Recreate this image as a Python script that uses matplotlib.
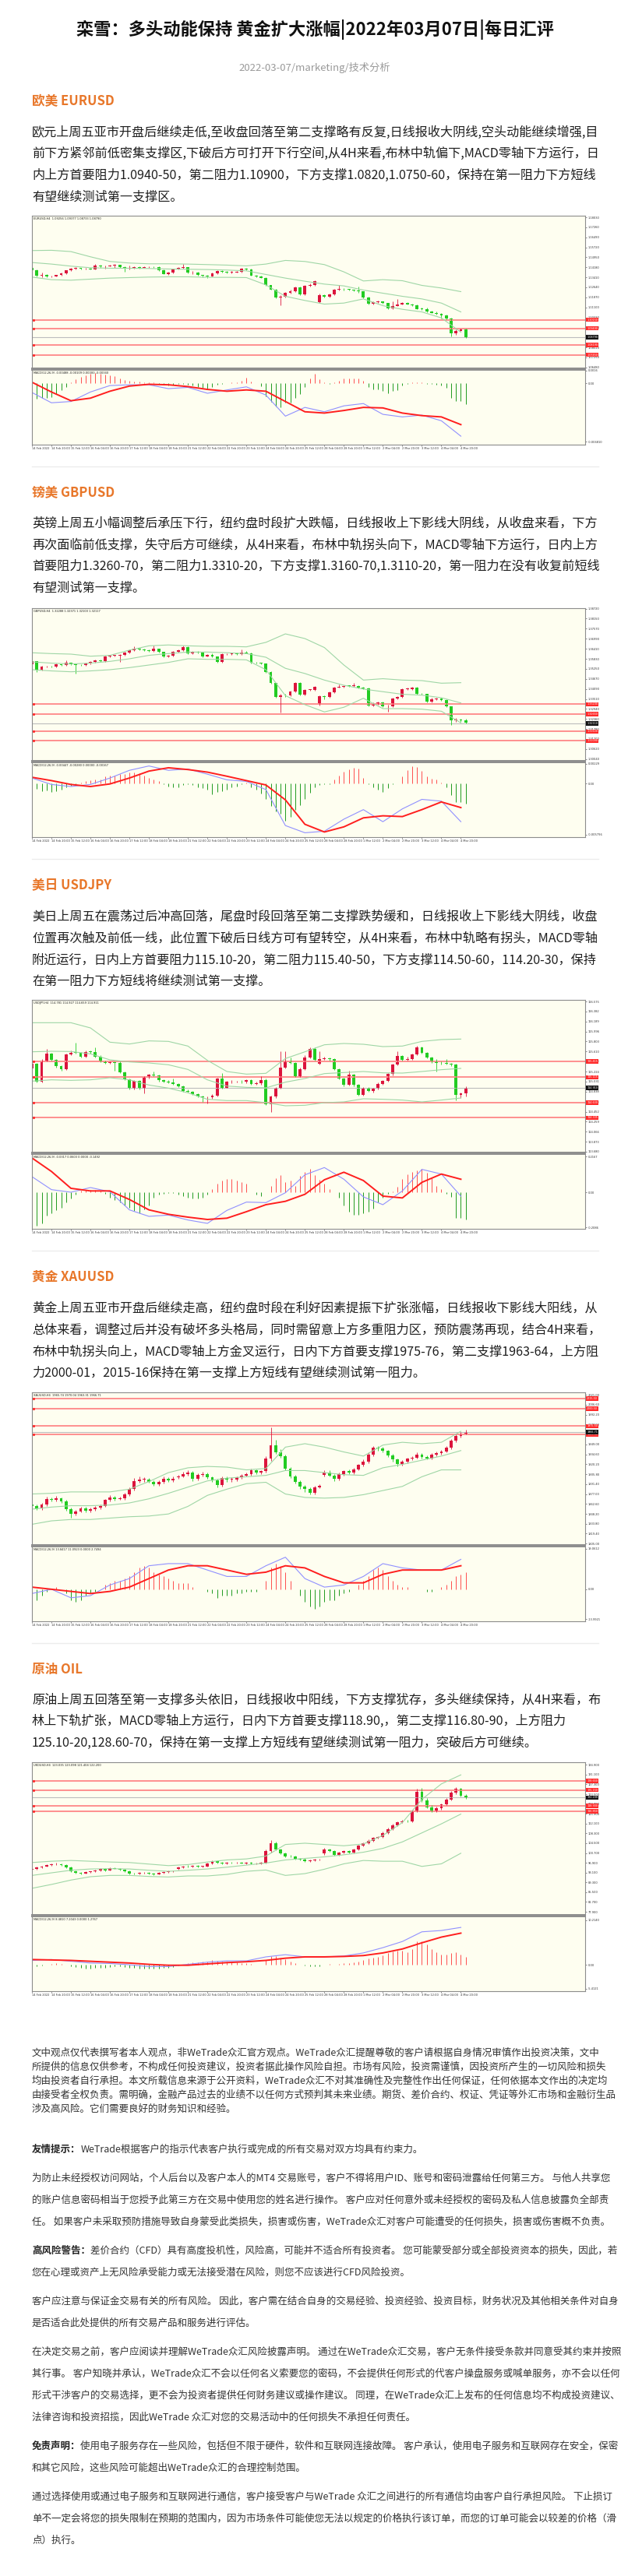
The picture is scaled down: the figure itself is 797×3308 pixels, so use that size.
import numpy as np
import matplotlib
matplotlib.use("Agg")
import matplotlib.pyplot as plt
from matplotlib.transforms import blended_transform_factory as blend

W, H = 797, 3308
FONT = ["Noto Sans CJK SC", "DejaVu Sans"]
plt.rcParams["font.family"] = FONT

# ---------------- page text ----------------
title = "栾雪：多头动能保持 黄金扩大涨幅|2022年03月07日|每日汇评"
subtitle = "2022-03-07/marketing/技术分析"

eur_head = "欧美 EURUSD"
eur_text = [
    "欧元上周五亚市开盘后继续走低,至收盘回落至第二支撑略有反复,日线报收大阴线,空头动能继续增强,目",
    "前下方紧邻前低密集支撑区,下破后方可打开下行空间,从4H来看,布林中轨偏下,MACD零轴下方运行，日",
    "内上方首要阻力1.0940-50，第二阻力1.10900，下方支撑1.0820,1.0750-60，保持在第一阻力下方短线",
    "有望继续测试第一支撑区。",
]
gbp_head = "镑美 GBPUSD"
gbp_text = [
    "英镑上周五小幅调整后承压下行，纽约盘时段扩大跌幅，日线报收上下影线大阴线，从收盘来看，下方",
    "再次面临前低支撑，失守后方可继续，从4H来看，布林中轨拐头向下，MACD零轴下方运行，日内上方",
    "首要阻力1.3260-70，第二阻力1.3310-20，下方支撑1.3160-70,1.3110-20，第一阻力在没有收复前短线",
    "有望测试第一支撑。",
]
jpy_head = "美日 USDJPY"
jpy_text = [
    "美日上周五在震荡过后冲高回落，尾盘时段回落至第二支撑跌势缓和，日线报收上下影线大阴线，收盘",
    "位置再次触及前低一线，此位置下破后日线方可有望转空，从4H来看，布林中轨略有拐头，MACD零轴",
    "附近运行，日内上方首要阻力115.10-20，第二阻力115.40-50，下方支撑114.50-60，114.20-30，保持",
    "在第一阻力下方短线将继续测试第一支撑。",
]
xau_head = "黄金 XAUUSD"
xau_text = [
    "黄金上周五亚市开盘后继续走高，纽约盘时段在利好因素提振下扩张涨幅，日线报收下影线大阳线，从",
    "总体来看，调整过后并没有破坏多头格局，同时需留意上方多重阻力区，预防震荡再现，结合4H来看，",
    "布林中轨拐头向上，MACD零轴上方金叉运行，日内下方首要支撑1975-76，第二支撑1963-64，上方阻",
    "力2000-01，2015-16保持在第一支撑上方短线有望继续测试第一阻力。",
]
oil_head = "原油 OIL"
oil_text = [
    "原油上周五回落至第一支撑多头依旧，日线报收中阳线，下方支撑犹存，多头继续保持，从4H来看，布",
    "林上下轨扩张，MACD零轴上方运行，日内下方首要支撑118.90,，第二支撑116.80-90，上方阻力",
    "125.10-20,128.60-70，保持在第一支撑上方短线有望继续测试第一阻力，突破后方可继续。",
]

disc_top = [
    "文中观点仅代表撰写者本人观点，非WeTrade众汇官方观点。WeTrade众汇提醒尊敬的客户请根据自身情况审慎作出投资决策，文中",
    "所提供的信息仅供参考，不构成任何投资建议，投资者据此操作风险自担。市场有风险，投资需谨慎，因投资所产生的一切风险和损失",
    "均由投资者自行承担。本文所载信息来源于公开资料，WeTrade众汇不对其准确性及完整性作出任何保证，任何依据本文作出的决定均",
    "由接受者全权负责。需明确，金融产品过去的业绩不以任何方式预判其未来业绩。期货、差价合约、权证、凭证等外汇市场和金融衍生品",
    "涉及高风险。它们需要良好的财务知识和经验。",
]
disc_blocks = [
    ("友情提示：", ["WeTrade根据客户的指示代表客户执行或完成的所有交易对双方均具有约束力。"]),
    ("", ["为防止未经授权访问网站，个人后台以及客户本人的MT4 交易账号，客户不得将用户ID、账号和密码泄露给任何第三方。 与他人共享您",
          "的账户信息密码相当于您授予此第三方在交易中使用您的姓名进行操作。 客户应对任何意外或未经授权的密码及私人信息披露负全部责",
          "任。 如果客户未采取预防措施导致自身蒙受此类损失，损害或伤害，WeTrade众汇对客户可能遭受的任何损失，损害或伤害概不负责。"]),
    ("高风险警告：", ["差价合约（CFD）具有高度投机性，风险高，可能并不适合所有投资者。 您可能蒙受部分或全部投资资本的损失，因此，若",
                 "您在心理或资产上无风险承受能力或无法接受潜在风险，则您不应该进行CFD风险投资。"]),
    ("", ["客户应注意与保证金交易有关的所有风险。 因此，客户需在结合自身的交易经验、投资经验、投资目标，财务状况及其他相关条件对自身",
          "是否适合此处提供的所有交易产品和服务进行评估。"]),
    ("", ["在决定交易之前，客户应阅读并理解WeTrade众汇风险披露声明。 通过在WeTrade众汇交易，客户无条件接受条款并同意受其约束并按照",
          "其行事。 客户知晓并承认，WeTrade众汇不会以任何名义索要您的密码，不会提供任何形式的代客户操盘服务或喊单服务，亦不会以任何",
          "形式干涉客户的交易选择，更不会为投资者提供任何财务建议或操作建议。 同理，在WeTrade众汇上发布的任何信息均不构成投资建议、",
          "法律咨询和投资招揽，因此WeTrade 众汇对您的交易活动中的任何损失不承担任何责任。"]),
    ("免责声明：", ["使用电子服务存在一些风险，包括但不限于硬件，软件和互联网连接故障。 客户承认，使用电子服务和互联网存在安全，保密",
                "和其它风险，这些风险可能超出WeTrade众汇的合理控制范围。"]),
    ("", ["通过选择使用或通过电子服务和互联网进行通信，客户接受客户与WeTrade 众汇之间进行的所有通信均由客户自行承担风险。 下止损订",
          "单不一定会将您的损失限制在预期的范围内，因为市场条件可能使您无法以规定的价格执行该订单，而您的订单可能会以较差的价格（滑",
          "点）执行。"]),
]

# ---------------- chart data (4H bars, 14 Feb - 4 Mar 2022) ----------------
time_labels = ["14 Feb 2022", "14 Feb 20:00", "15 Feb 12:00", "16 Feb 04:00", "16 Feb 20:00",
               "17 Feb 12:00", "18 Feb 04:00", "18 Feb 20:00", "21 Feb 12:00", "22 Feb 04:00",
               "22 Feb 20:00", "23 Feb 12:00", "24 Feb 04:00", "24 Feb 20:00", "25 Feb 12:00",
               "28 Feb 04:00", "28 Feb 20:00", "1 Mar 12:00", "2 Mar 04:00", "2 Mar 20:00",
               "3 Mar 12:00", "4 Mar 04:00", "4 Mar 20:00"]

# EURUSD, prices in 1e-4
eur_open = np.array([
    11415, 11395, 11355, 11361, 11347, 11349, 11357, 11371, 11393, 11407,
    11411, 11405, 11407, 11403, 11431, 11423, 11427, 11429, 11435, 11421,
    11407, 11411, 11417, 11413, 11419, 11421, 11417, 11395, 11367, 11377,
    11403, 11413, 11417, 11375, 11379, 11357, 11351, 11349, 11369, 11389,
    11383, 11379, 11379, 11383, 11407, 11403, 11355, 11349, 11337, 11279,
    11247, 11187, 11195, 11221, 11235, 11263, 11213, 11275, 11283, 11153,
    11207, 11195, 11211, 11247, 11253, 11249, 11243, 11237, 11231, 11187,
    11139, 11153, 11155, 11143, 11105, 11123, 11135, 11147, 11135, 11127,
    11099, 11097, 11077, 11069, 11061, 11051, 11027, 10909, 10931, 10941]) / 1e4
eur_close = np.array([
    11395, 11355, 11361, 11347, 11349, 11357, 11371, 11393, 11407, 11411,
    11405, 11407, 11403, 11431, 11423, 11427, 11429, 11435, 11421, 11407,
    11411, 11417, 11413, 11419, 11421, 11417, 11395, 11367, 11377, 11403,
    11413, 11417, 11375, 11379, 11357, 11351, 11349, 11369, 11389, 11383,
    11379, 11379, 11383, 11407, 11403, 11355, 11349, 11337, 11279, 11247,
    11187, 11195, 11221, 11235, 11263, 11213, 11275, 11283, 11313, 11207,
    11195, 11211, 11247, 11253, 11249, 11243, 11237, 11231, 11187, 11139,
    11153, 11155, 11143, 11105, 11123, 11135, 11147, 11135, 11127, 11099,
    11097, 11077, 11069, 11061, 11051, 11027, 10909, 10931, 10941, 10879]) / 1e4
eur_high = np.array([
    11419, 11403, 11379, 11365, 11355, 11361, 11375, 11397, 11415, 11419,
    11415, 11413, 11411, 11443, 11435, 11433, 11437, 11443, 11439, 11427,
    11431, 11427, 11423, 11425, 11427, 11427, 11423, 11401, 11383, 11409,
    11421, 11443, 11421, 11389, 11385, 11361, 11357, 11375, 11395, 11395,
    11387, 11387, 11389, 11411, 11411, 11407, 11359, 11353, 11341, 11283,
    11253, 11207, 11227, 11243, 11269, 11267, 11283, 11291, 11319, 11215,
    11211, 11219, 11251, 11283, 11259, 11253, 11247, 11269, 11235, 11191,
    11159, 11161, 11159, 11147, 11159, 11175, 11151, 11151, 11139, 11131,
    11107, 11109, 11083, 11077, 11067, 11055, 11031, 10943, 10949, 10945]) / 1e4
eur_low = np.array([
    11387, 11345, 11339, 11339, 11341, 11345, 11353, 11367, 11389, 11403,
    11401, 11401, 11399, 11399, 11415, 11409, 11423, 11411, 11415, 11383,
    11403, 11407, 11407, 11411, 11415, 11413, 11391, 11363, 11361, 11371,
    11399, 11407, 11369, 11367, 11353, 11343, 11335, 11345, 11363, 11377,
    11373, 11373, 11375, 11377, 11395, 11351, 11343, 11333, 11273, 11243,
    11183, 11129, 11189, 11215, 11229, 11205, 11207, 11267, 11275, 11147,
    11187, 11187, 11205, 11239, 11241, 11237, 11233, 11225, 11181, 11131,
    11133, 11147, 11139, 11099, 11097, 11119, 11131, 11131, 11121, 11095,
    11091, 11071, 11065, 11057, 11027, 11021, 10887, 10899, 10927, 10875]) / 1e4
# Bollinger(20) read every 4 bars
eur_bb_up = np.array([11547, 11549, 11539, 11499, 11463, 11451, 11445, 11445, 11443, 11439, 11435, 11429,
                      11443, 11471, 11463, 11439, 11383, 11313, 11323, 11315, 11279, 11259, 11231]) / 1e4
eur_bb_mid = np.array([11455, 11443, 11427, 11415, 11411, 11411, 11409, 11405, 11403, 11401, 11397, 11391,
                       11363, 11335, 11311, 11289, 11275, 11243, 11219, 11195, 11175, 11143, 11075]) / 1e4
eur_bb_low = np.array([11343, 11323, 11319, 11327, 11335, 11339, 11343, 11345, 11345, 11341, 11341, 11339,
                       11283, 11195, 11163, 11135, 11143, 11175, 11123, 11095, 11075, 11029, 10919]) / 1e4
# MACD in 1e-5
eur_dif = np.array([-105, -225, -210, -99, -24, -15, -15, -60, -45, -114, -75, -39,
                    -135, -381, -279, -330, -261, -234, -360, -390, -369, -435, -615]) / 1e5
eur_dea = np.array([15, -99, -201, -171, -90, -30, -9, -15, -36, -69, -90, -75,
                    -90, -210, -330, -345, -315, -279, -285, -345, -375, -390, -480]) / 1e5
eur_hist = np.array([
    -150, -180, -165, -171, -159, -120, -75, -45, 15, 51,
    81, 99, 111, 120, 111, 105, 99, 90, 60, 45,
    30, 21, 21, 18, 15, 9, -9, -15, -24, -15,
    -9, -6, -15, -27, -45, -54, -60, -39, -15, -6,
    0, 9, 15, 30, 69, 21, 3, -30, -150, -210,
    -270, -279, -225, -219, -165, -120, -45, 60, 111, 51,
    9, -9, 15, 30, 60, 60, 60, 60, 30, -45,
    -69, -69, -90, -111, -90, -75, -24, -9, 9, 9,
    15, -6, -9, -15, -21, -51, -165, -201, -201, -240]) / 1e5
eur_levels = [1.10150, 1.09490, 1.08190, 1.07450]
eur_last = 1.08790
eur_yticks = [1.1803, 1.1726, 1.1649, 1.1572, 1.1495, 1.1418, 1.1341, 1.1264, 1.1187, 1.1110,
              1.1033, 1.0956, 1.0802, 1.0725, 1.0648]

# GBPUSD, prices in 1e-4
gbp_open = np.array([
    13553, 13568, 13520, 13537, 13540, 13537, 13550, 13547, 13559, 13553,
    13549, 13546, 13558, 13567, 13573, 13571, 13595, 13601, 13601, 13606,
    13618, 13633, 13643, 13637, 13633, 13628, 13640, 13622, 13595, 13601,
    13624, 13633, 13652, 13613, 13622, 13621, 13598, 13607, 13595, 13565,
    13609, 13610, 13615, 13610, 13621, 13616, 13562, 13559, 13555, 13508,
    13442, 13363, 13373, 13370, 13393, 13445, 13378, 13403, 13403, 13318,
    13366, 13363, 13388, 13418, 13421, 13427, 13426, 13427, 13418, 13412,
    13313, 13324, 13333, 13307, 13310, 13355, 13363, 13408, 13408, 13415,
    13381, 13379, 13337, 13351, 13352, 13345, 13307, 13228, 13232, 13226]) / 1e4
gbp_close = np.array([
    13568, 13520, 13537, 13540, 13537, 13550, 13547, 13559, 13553, 13549,
    13546, 13558, 13567, 13573, 13571, 13595, 13601, 13601, 13606, 13618,
    13633, 13643, 13637, 13633, 13628, 13640, 13622, 13595, 13601, 13624,
    13633, 13652, 13613, 13622, 13621, 13598, 13607, 13595, 13565, 13609,
    13610, 13615, 13610, 13621, 13616, 13562, 13559, 13555, 13508, 13442,
    13363, 13373, 13370, 13393, 13445, 13378, 13403, 13403, 13420, 13366,
    13363, 13388, 13418, 13421, 13427, 13426, 13427, 13418, 13412, 13313,
    13324, 13333, 13307, 13310, 13355, 13363, 13408, 13408, 13415, 13381,
    13379, 13337, 13351, 13352, 13345, 13307, 13228, 13232, 13226, 13213]) / 1e4
gbp_high = np.array([
    13574, 13571, 13541, 13544, 13543, 13555, 13553, 13573, 13562, 13556,
    13552, 13562, 13571, 13577, 13577, 13600, 13607, 13607, 13610, 13622,
    13637, 13655, 13646, 13640, 13636, 13658, 13643, 13625, 13606, 13628,
    13637, 13658, 13655, 13627, 13627, 13624, 13612, 13613, 13598, 13613,
    13616, 13619, 13618, 13637, 13630, 13619, 13565, 13562, 13558, 13511,
    13445, 13382, 13379, 13397, 13450, 13448, 13408, 13409, 13426, 13370,
    13373, 13393, 13423, 13433, 13432, 13432, 13442, 13430, 13423, 13415,
    13330, 13337, 13337, 13316, 13360, 13367, 13412, 13415, 13421, 13423,
    13385, 13382, 13357, 13358, 13357, 13349, 13310, 13243, 13238, 13235]) / 1e4
gbp_low = np.array([
    13547, 13505, 13516, 13534, 13532, 13532, 13541, 13543, 13547, 13498,
    13541, 13541, 13553, 13562, 13567, 13567, 13591, 13597, 13565, 13601,
    13613, 13628, 13634, 13628, 13624, 13624, 13618, 13591, 13592, 13597,
    13619, 13628, 13609, 13610, 13616, 13594, 13595, 13592, 13559, 13562,
    13604, 13606, 13607, 13606, 13613, 13558, 13555, 13550, 13504, 13438,
    13358, 13273, 13364, 13366, 13388, 13373, 13373, 13397, 13399, 13313,
    13348, 13358, 13384, 13415, 13417, 13421, 13423, 13414, 13408, 13309,
    13309, 13318, 13303, 13277, 13306, 13351, 13358, 13403, 13403, 13376,
    13375, 13333, 13333, 13346, 13340, 13303, 13202, 13220, 13220, 13208]) / 1e4
gbp_bb_up = np.array([13618, 13613, 13610, 13598, 13603, 13633, 13658, 13663, 13658, 13655, 13655, 13652,
                      13678, 13727, 13700, 13648, 13547, 13460, 13468, 13460, 13457, 13442, 13445]) / 1e4
gbp_bb_mid = np.array([13565, 13558, 13553, 13558, 13568, 13583, 13603, 13613, 13622, 13622, 13618, 13613,
                       13592, 13528, 13498, 13460, 13430, 13408, 13393, 13378, 13373, 13358, 13328]) / 1e4
gbp_bb_low = np.array([13520, 13513, 13508, 13513, 13520, 13532, 13547, 13562, 13583, 13580, 13580, 13577,
                       13520, 13370, 13318, 13276, 13303, 13355, 13295, 13295, 13292, 13280, 13213]) / 1e4
gbp_dif = np.array([66, -9, -33, -9, 66, 156, 207, 156, 171, 111, 45, 27,
                    -69, -489, -573, -555, -414, -303, -444, -294, -183, -204, -444]) / 1e5
gbp_dea = np.array([75, 36, -9, -33, -3, 66, 147, 186, 165, 135, 87, 36,
                    -15, -189, -474, -564, -504, -399, -375, -384, -303, -213, -279]) / 1e5
gbp_hist = np.array([
    -39, -63, -84, -75, -93, -84, -69, -39, -24, -9,
    15, 27, 36, 45, 51, 81, 96, 96, 111, 117,
    135, 135, 126, 96, 66, 51, 27, -9, -33, -45,
    -39, -18, -9, -18, -39, -54, -69, -123, -99, -84,
    -69, -39, -33, -9, 15, -39, -69, -114, -174, -264,
    -324, -354, -429, -384, -309, -249, -174, -105, -39, -18,
    -9, -3, 51, 96, 141, 165, 186, 177, 66, -9,
    -39, -69, -93, -54, -9, 6, 81, 156, 201, 195,
    147, 81, 57, 51, 15, -39, -129, -219, -219, -234]) / 1e5
gbp_levels = [1.33200, 1.32650, 1.31630, 1.31090]
gbp_last = 1.32110
gbp_yticks = [1.3872, 1.3815, 1.3757, 1.3699, 1.3641, 1.3583, 1.3525, 1.3467, 1.3409, 1.3351,
              1.3294, 1.3236, 1.3178, 1.3120, 1.3062, 1.3004]

# USDJPY, prices in 1e-3
jpy_open = np.array([
    115290, 115375, 115025, 115440, 115565, 115455, 115325, 115275, 115555, 115590,
    115585, 115505, 115605, 115600, 115515, 115415, 115390, 115405, 115390, 115205,
    115075, 114890, 115040, 114905, 115115, 115165, 115150, 115055, 115035, 115015,
    114990, 114940, 114855, 114835, 114790, 114740, 114725, 114725, 114765, 115090,
    114915, 115025, 115025, 115030, 115025, 115055, 114990, 115005, 115065, 114600,
    114740, 114905, 115305, 115415, 115390, 115140, 115275, 115490, 115665, 115375,
    115465, 115475, 115465, 115265, 115090, 114965, 115165, 114965, 114775, 114905,
    114855, 114890, 114990, 115040, 115175, 115355, 115525, 115455, 115465, 115555,
    115690, 115590, 115490, 115405, 115395, 115385, 115375, 115355, 114775, 114805]) / 1e3
jpy_close = np.array([
    115375, 115025, 115440, 115565, 115455, 115325, 115275, 115555, 115590, 115585,
    115505, 115605, 115600, 115515, 115415, 115390, 115405, 115390, 115205, 115075,
    114890, 115040, 114905, 115115, 115165, 115150, 115055, 115035, 115015, 114990,
    114940, 114855, 114835, 114790, 114740, 114725, 114725, 114765, 115090, 114915,
    115025, 115025, 115030, 115025, 115055, 114990, 115005, 115065, 114600, 114740,
    114905, 115305, 115415, 115390, 115140, 115275, 115490, 115665, 115455, 115465,
    115475, 115465, 115265, 115090, 114965, 115165, 114965, 114775, 114905, 114855,
    114890, 114990, 115040, 115175, 115355, 115525, 115455, 115465, 115555, 115690,
    115590, 115490, 115405, 115395, 115385, 115375, 115355, 114775, 114805, 114910]) / 1e3
jpy_high = np.array([
    115475, 115390, 115465, 115665, 115585, 115465, 115340, 115575, 115625, 115775,
    115605, 115625, 115625, 115690, 115535, 115440, 115425, 115425, 115415, 115225,
    115095, 115065, 115055, 115135, 115185, 115225, 115165, 115075, 115055, 115090,
    115005, 114955, 114875, 114855, 114805, 114755, 114745, 114785, 115105, 115190,
    115040, 115055, 115050, 115055, 115075, 115075, 115025, 115140, 115085, 114765,
    114925, 115615, 115615, 115490, 115405, 115295, 115540, 115685, 115685, 115615,
    115505, 115495, 115485, 115280, 115105, 115240, 115185, 114985, 114925, 114925,
    114915, 115015, 115065, 115195, 115375, 115615, 115540, 115515, 115575, 115725,
    115705, 115605, 115505, 115465, 115415, 115465, 115395, 115375, 114825, 114940]) / 1e3
jpy_low = np.array([
    115275, 115015, 115015, 115425, 115440, 115305, 115240, 115260, 115535, 115565,
    115490, 115490, 115575, 115500, 115400, 115375, 115380, 115240, 115190, 115055,
    114875, 114875, 114875, 114805, 115095, 115130, 115035, 115015, 114995, 114975,
    114925, 114835, 114815, 114775, 114725, 114640, 114615, 114705, 114750, 114900,
    114905, 115005, 115010, 115005, 115000, 114975, 114975, 114965, 114575, 114440,
    114715, 114890, 115285, 115375, 115125, 115125, 115255, 115475, 115440, 115355,
    115445, 115435, 115250, 115075, 114940, 114950, 114940, 114760, 114755, 114835,
    114815, 114875, 114975, 115025, 115155, 115340, 115435, 115435, 115445, 115540,
    115575, 115475, 115385, 115225, 115365, 115355, 115335, 114665, 114715, 114740]) / 1e3
jpy_bb_up = np.array([116165, 116165, 116165, 116065, 115790, 115755, 115815, 115805, 115715, 115440, 115225,
                      115175, 115190, 115475, 115605, 115740, 115765, 115750, 115705, 115715, 115805, 115840,
                      115850]) / 1e3
jpy_bb_mid = np.array([115605, 115615, 115610, 115565, 115450, 115410, 115390, 115355, 115265, 115065, 114945,
                       114920, 114910, 115020, 115090, 115185, 115205, 115225, 115200, 115195, 115225, 115260,
                       115285]) / 1e3
jpy_bb_low = np.array([115040, 115065, 115055, 115065, 115105, 115065, 114965, 114905, 114815, 114690, 114665,
                       114665, 114625, 114565, 114575, 114625, 114640, 114700, 114690, 114675, 114640, 114675,
                       114715]) / 1e3
jpy_dif = np.array([90, 15, 0, 27, 3, -102, -139.5, -132, -160.5, -180, -105, -57,
                    -60, -3, 100.5, 142.5, 75, -27, -72, 7.5, 132, 105, -22.5]) / 1e3
jpy_dea = np.array([198, 120, 22.5, 7.5, 7.5, -42, -102, -127.5, -144, -157.5, -150, -112.5,
                    -72, -52.5, -12, 72, 115.5, 67.5, -22.5, -33, 57, 105, 75]) / 1e3
jpy_hist = np.array([
    -150, -195, -180, -135, -120, -105, -90, -60, -37.5, -15,
    7.5, 12, 15, 15, 7.5, -7.5, -30, -45, -60, -75,
    -90, -108, -120, -97.5, -75, -30, -15, -7.5, -3, -3,
    -15, -22.5, -30, -37.5, -37.5, -33, -15, 18, 48, 67.5,
    78, 78, 67.5, 57, 48, 0, -15, -22.5, 0, 37.5,
    82.5, 97.5, 60, 67.5, 37.5, 93, 117, 135, 97.5, 72,
    48, 18, 0, -30, -75, -112.5, -132, -132, -120, -112.5,
    -93, -60, -30, -7.5, 3, 33, 75, 102, 117, 127.5,
    135, 112.5, 82.5, 37.5, 18, -7.5, -27, -150, -150, -157.5]) / 1e3
jpy_levels = [115.415, 115.115, 114.630, 114.335]
jpy_last = 114.910
jpy_yticks = [116.575, 116.382, 116.189, 115.996, 115.803, 115.610, 115.417, 115.224, 115.031, 114.838,
              114.645, 114.452, 114.259, 114.066, 113.873, 113.680]

# XAUUSD
xau_open = np.array([
    1862, 1859, 1856, 1862, 1870, 1868, 1871, 1866, 1855, 1848,
    1852, 1856, 1853, 1855, 1857, 1860, 1868, 1872, 1870, 1871,
    1876, 1884, 1896, 1898, 1898, 1895, 1891, 1894, 1899, 1897,
    1901, 1903, 1906, 1908, 1899, 1905, 1906, 1901, 1897, 1890,
    1900, 1898, 1898, 1901, 1904, 1906, 1911, 1908, 1910, 1928,
    1948, 1938, 1932, 1914, 1903, 1895, 1888, 1884, 1879, 1887,
    1905, 1908, 1904, 1899, 1906, 1910, 1908, 1913, 1919, 1924,
    1934, 1944, 1943, 1940, 1933, 1927, 1920, 1924, 1928, 1930,
    1934, 1931, 1929, 1934, 1936, 1939, 1944, 1954, 1961, 1965])
xau_close = np.array([
    1859, 1856, 1862, 1870, 1868, 1871, 1866, 1855, 1848, 1852,
    1856, 1853, 1855, 1857, 1860, 1868, 1872, 1870, 1871, 1876,
    1884, 1896, 1898, 1898, 1895, 1891, 1894, 1899, 1897, 1899,
    1903, 1906, 1908, 1899, 1905, 1906, 1901, 1897, 1890, 1900,
    1898, 1898, 1901, 1904, 1906, 1911, 1908, 1910, 1928, 1948,
    1938, 1932, 1914, 1903, 1895, 1888, 1884, 1879, 1887, 1889,
    1908, 1904, 1899, 1906, 1910, 1908, 1913, 1919, 1924, 1934,
    1944, 1943, 1940, 1933, 1927, 1920, 1924, 1928, 1930, 1934,
    1931, 1929, 1934, 1936, 1939, 1944, 1954, 1961, 1965, 1967])
xau_high = np.array([
    1864, 1862, 1864, 1873, 1872, 1874, 1872, 1868, 1857, 1854,
    1858, 1858, 1857, 1859, 1862, 1870, 1875, 1874, 1873, 1879,
    1887, 1900, 1902, 1901, 1900, 1897, 1897, 1902, 1901, 1902,
    1905, 1909, 1911, 1910, 1907, 1909, 1908, 1903, 1899, 1902,
    1902, 1901, 1903, 1906, 1908, 1914, 1913, 1912, 1932, 1974,
    1955, 1942, 1934, 1916, 1905, 1897, 1890, 1887, 1889, 1891,
    1912, 1911, 1906, 1908, 1912, 1913, 1915, 1921, 1927, 1937,
    1947, 1947, 1945, 1941, 1935, 1929, 1926, 1930, 1932, 1937,
    1936, 1933, 1936, 1939, 1941, 1947, 1957, 1963, 1967, 1970])
xau_low = np.array([
    1857, 1854, 1854, 1860, 1866, 1866, 1864, 1853, 1842, 1846,
    1850, 1851, 1851, 1853, 1855, 1858, 1866, 1867, 1868, 1869,
    1874, 1882, 1893, 1895, 1893, 1889, 1889, 1892, 1895, 1895,
    1899, 1901, 1904, 1896, 1897, 1903, 1899, 1895, 1887, 1888,
    1895, 1895, 1896, 1899, 1902, 1904, 1906, 1906, 1908, 1925,
    1935, 1930, 1912, 1900, 1892, 1884, 1880, 1876, 1877, 1885,
    1902, 1902, 1896, 1897, 1904, 1906, 1906, 1911, 1917, 1922,
    1932, 1940, 1938, 1931, 1924, 1917, 1918, 1922, 1926, 1928,
    1929, 1927, 1927, 1932, 1934, 1937, 1942, 1952, 1959, 1963])
xau_bb_up = np.array([1877, 1878, 1880, 1880, 1880, 1884, 1895, 1908, 1915, 1917, 1916, 1912,
                      1914, 1945, 1950, 1945, 1938, 1932, 1948, 1952, 1950, 1952, 1968])
xau_bb_mid = np.array([1855, 1858, 1860, 1860, 1861, 1864, 1870, 1878, 1887, 1896, 1900, 1902,
                       1904, 1911, 1911, 1908, 1905, 1904, 1915, 1920, 1926, 1932, 1940])
xau_bb_low = np.array([1833, 1838, 1840, 1840, 1842, 1844, 1845, 1848, 1859, 1875, 1884, 1892,
                       1894, 1877, 1872, 1871, 1872, 1876, 1882, 1888, 1902, 1912, 1912])
xau_dif = np.array([-2, 0, -4, -3, 2, 5, 11, 12, 12, 9, 6, 6, 11, 15, 5, 1, 2, 6, 12, 10, 9, 9, 14])
xau_dea = np.array([1, 0, -1, -2, -1, 1, 5, 9, 11, 11, 9, 7, 8, 11, 10, 6, 3, 3, 7, 9, 9, 9, 11])
xau_hist = np.array([
    -6, -5, -3, -1, 0, 1, 0, -2, -5, -6,
    -5, -3, -2, -1, 0, 2, 3, 4, 4, 5,
    6, 8, 10, 11, 10, 8, 7, 6, 5, 4,
    3, 3, 3, 1, 0, 0, -1, -2, -4, -3,
    -3, -3, -2, -2, -1, -1, -1, 0, 4, 10,
    12, 11, 8, 4, 0, -3, -6, -8, -9, -8,
    -6, -5, -5, -3, -2, -1, 0, 2, 4, 6,
    9, 10, 9, 6, 4, 2, 1, 1, 0, 0,
    0, -1, -1, 0, 1, 2, 4, 6, 7, 8])
xau_levels = [2015.50, 2000.50, 1975.50, 1963.50]
xau_last = 1966.71
xau_yticks = [2021.0, 2006.6, 1992.2, 1977.8, 1949.0, 1934.6, 1920.2, 1905.8, 1891.4, 1877.0,
              1862.6, 1848.2, 1833.8, 1819.4, 1805.0]

# UKOIL
oil_open = np.array([
    94.2, 94.5, 95.0, 95.5, 96.0, 96.3, 96.4, 96.0, 95.0, 93.5,
    93.0, 92.8, 93.2, 93.5, 94.0, 94.5, 94.0, 94.8, 94.6, 94.2,
    93.5, 92.8, 92.6, 92.9, 92.9, 92.7, 92.5, 93.0, 93.4, 93.5,
    94.5, 95.0, 95.5, 95.3, 95.6, 95.4, 95.5, 96.5, 97.5, 96.8,
    96.6, 96.9, 96.8, 97.0, 96.6, 96.8, 96.5, 96.7, 96.9, 101.5,
    104.5, 102.0, 100.5, 99.5, 99.3, 98.5, 98.2, 97.5, 97.8, 98.0,
    100.5, 102.0, 101.5, 100.0, 100.8, 101.5, 101.0, 102.0, 103.5, 104.5,
    105.5, 106.5, 106.8, 108.5, 110.0, 111.5, 112.5, 113.0, 112.8, 117.0,
    124.5, 121.0, 118.5, 117.0, 118.0, 119.5, 121.5, 124.0, 125.5, 123.0])
oil_close = np.array([
    94.5, 95.0, 95.5, 96.0, 96.3, 96.4, 96.0, 95.0, 93.5, 93.0,
    92.8, 93.2, 93.5, 94.0, 94.5, 94.0, 94.8, 94.6, 94.2, 93.5,
    92.8, 92.6, 92.9, 92.9, 92.7, 92.5, 93.0, 93.4, 93.5, 93.6,
    95.0, 95.5, 95.3, 95.6, 95.4, 95.5, 96.5, 97.5, 96.8, 96.6,
    96.9, 96.8, 97.0, 96.6, 96.8, 96.5, 96.7, 96.9, 101.5, 104.5,
    102.0, 100.5, 99.5, 99.3, 98.5, 98.2, 97.5, 97.8, 98.0, 98.0,
    102.0, 101.5, 100.0, 100.8, 101.5, 101.0, 102.0, 103.5, 104.5, 105.5,
    106.5, 106.8, 108.5, 110.0, 111.5, 112.5, 113.0, 112.8, 117.0, 124.5,
    121.0, 118.5, 117.0, 118.0, 119.5, 121.5, 124.0, 125.5, 123.0, 122.2])
oil_high = np.array([
    94.8, 95.3, 95.8, 96.3, 96.6, 96.8, 96.7, 96.3, 95.3, 93.9,
    93.4, 93.5, 93.7, 94.3, 94.8, 94.8, 95.1, 95.1, 94.9, 94.5,
    93.8, 93.1, 93.2, 93.3, 93.2, 93.0, 93.3, 93.7, 93.8, 93.9,
    95.3, 95.8, 95.9, 95.9, 95.9, 95.8, 96.8, 97.9, 97.8, 97.1,
    97.1, 97.2, 97.3, 97.3, 97.2, 97.1, 97.0, 97.2, 102.0, 105.8,
    105.0, 102.5, 101.0, 99.9, 99.6, 98.9, 98.6, 98.1, 98.3, 98.4,
    102.6, 102.5, 101.9, 101.1, 101.8, 101.9, 102.3, 103.9, 104.9, 105.9,
    106.9, 107.2, 108.9, 110.4, 111.9, 112.9, 113.5, 113.6, 117.4, 125.5,
    126.0, 122.0, 119.3, 118.6, 120.0, 122.0, 124.6, 126.3, 126.0, 123.6])
oil_low = np.array([
    93.9, 94.3, 94.8, 95.3, 95.8, 96.0, 95.7, 94.7, 93.2, 92.7,
    92.5, 92.6, 92.9, 93.3, 93.7, 93.7, 93.8, 94.4, 94.0, 93.2,
    92.5, 92.3, 92.4, 92.6, 92.4, 92.2, 92.3, 92.8, 93.1, 93.2,
    94.2, 94.8, 95.0, 95.0, 95.2, 95.1, 95.3, 96.2, 96.5, 96.3,
    96.3, 96.6, 96.5, 96.6, 96.3, 96.3, 96.2, 96.4, 96.6, 101.0,
    101.7, 100.2, 99.2, 99.0, 98.2, 97.9, 97.2, 97.2, 97.5, 97.7,
    100.1, 101.2, 99.7, 99.7, 100.5, 100.7, 100.7, 101.7, 103.2, 104.2,
    105.2, 106.2, 106.5, 108.2, 109.7, 111.2, 112.2, 112.5, 112.5, 116.6,
    120.5, 118.0, 116.5, 116.5, 117.6, 119.2, 121.1, 123.6, 122.6, 121.6])
oil_bb_up = np.array([97.0, 97.5, 97.8, 97.5, 97.2, 97.0, 96.4, 95.8, 96.2, 97.2, 98.0, 98.4,
                      99.5, 104.0, 104.5, 104.0, 103.5, 104.2, 107.5, 112.5, 121.5, 127.5, 131.0])
oil_bb_mid = np.array([92.0, 93.0, 94.0, 94.5, 94.6, 94.5, 94.0, 93.6, 94.0, 94.5, 95.2, 96.0,
                       96.8, 98.0, 98.6, 99.2, 100.0, 101.0, 102.5, 105.0, 108.5, 112.0, 115.8])
oil_bb_low = np.array([87.0, 88.5, 90.2, 91.5, 92.0, 92.0, 91.6, 91.4, 91.8, 91.8, 92.4, 93.6,
                       94.1, 92.0, 92.7, 94.4, 96.5, 97.8, 97.5, 97.5, 95.5, 96.5, 100.6])
oil_dif = np.array([1.0, 1.2, 0.8, 0.4, 0.3, 0.0, -0.4, -0.4, 0.1, 0.6, 0.9, 0.9,
                    1.8, 2.3, 1.8, 1.8, 2.0, 2.7, 3.9, 5.3, 7.5, 7.8, 8.5])
oil_dea = np.array([1.2, 1.1, 1.0, 0.8, 0.6, 0.4, 0.1, -0.1, -0.1, 0.2, 0.5, 0.7,
                    1.0, 1.5, 1.8, 1.8, 1.9, 2.1, 2.7, 3.6, 5.0, 6.3, 7.2])
oil_hist = np.array([
    -0.4, -0.3, -0.2, 0.0, 0.2, 0.3, 0.2, 0.0, -0.3, -0.5,
    -0.7, -0.8, -0.8, -0.7, -0.6, -0.6, -0.5, -0.4, -0.4, -0.5,
    -0.6, -0.7, -0.8, -0.9, -0.9, -0.9, -0.8, -0.7, -0.6, -0.5,
    -0.2, 0.1, 0.3, 0.5, 0.6, 0.7, 0.8, 1.0, 0.9, 0.8,
    0.7, 0.6, 0.5, 0.4, 0.3, 0.2, 0.1, 0.1, 1.0, 2.0,
    2.0, 1.6, 1.2, 0.8, 0.4, 0.1, -0.1, -0.3, -0.4, -0.4,
    0.1, 0.2, 0.1, 0.2, 0.3, 0.3, 0.5, 0.8, 1.1, 1.4,
    1.7, 1.8, 2.2, 2.6, 3.0, 3.2, 3.2, 2.9, 3.5, 5.3,
    5.4, 4.6, 3.6, 2.8, 2.4, 2.4, 2.6, 2.8, 2.4, 1.8])
oil_levels = [128.650, 125.150, 118.900, 116.850]
oil_last = 122.200
oil_yticks = [134.9, 131.1, 127.3, 123.5, 119.7, 115.9, 112.1, 108.3, 104.5, 100.7,
              96.9, 93.1, 89.3, 85.5, 81.7, 77.9]

# ---------------- drawing helpers ----------------
fig = plt.figure(figsize=(W / 100, H / 100), dpi=100)
fig.patch.set_facecolor("white")
renderer = fig.canvas.get_renderer()

LEFT, RIGHT, PLOT_R = 41, 768, 751
BG = "#fefef0"
UP, DOWN = "#dc143c", "#22cc22"
BAND = "#9fd6a6"


def put(x, y, s, size, color="#222222", weight="normal", ha="left"):
    return fig.text(x / W, 1 - y / H, s, fontsize=size, color=color, fontweight=weight,
                    ha=ha, va="center", family=FONT)


def sep(y):
    fig.add_artist(plt.Line2D([LEFT / W, RIGHT / W], [1 - y / H, 1 - y / H], color="#ececec", lw=1.0))


def section(y_head, head, lines, y_first, step=27.8):
    put(LEFT, y_head, head, 12, color="#e8772a", weight="bold")
    for i, s in enumerate(lines):
        put(LEFT, y_first + i * step, s, 11.6, color="#1e1e1e")


def chart(top, name, fmt, o, h, l, c, bb, macd, hist, levels, last, ylim, yticks,
          mlim, mticks, mlabels, mhead):
    ax = fig.add_axes([LEFT / W, 1 - (top + 196) / H, (PLOT_R - LEFT) / W, 196 / H])
    mx = fig.add_axes([LEFT / W, 1 - (top + 294) / H, (PLOT_R - LEFT) / W, 96 / H])
    for a in (ax, mx):
        a.set_facecolor(BG)
        a.set_xlim(0, 113.5)
        for s in a.spines.values():
            s.set_color("#8c8c8c")
            s.set_linewidth(0.8)
        a.yaxis.tick_right()
        a.tick_params(axis="y", labelsize=2.6, length=1.5, width=0.4, pad=1, colors="#333333")
    ax.spines["bottom"].set_linewidth(1.4)
    mx.spines["top"].set_linewidth(1.4)
    ax.set_xticks([])
    ax.text(0.003, 0.99, name, transform=ax.transAxes, fontsize=2.6, va="top", color="#222222",
            family="DejaVu Sans")
    mx.text(0.003, 0.98, mhead, transform=mx.transAxes, fontsize=2.6, va="top", color="#222222",
            family="DejaVu Sans")
    mx.set_xticks(np.arange(0, 89, 4))
    mx.set_xticklabels(time_labels, fontsize=2.6, ha="left", family="DejaVu Sans")
    mx.tick_params(axis="x", length=1.5, width=0.4, pad=0.6, colors="#333333")

    x = np.arange(len(c))
    col = np.where(c >= o, UP, DOWN)
    ax.vlines(x, l, h, colors=col, lw=0.6)
    body = np.maximum(np.abs(c - o), (ylim[1] - ylim[0]) * 0.003)
    ax.bar(x, body, bottom=np.minimum(o, c), width=0.62, color=col, lw=0)
    bx = np.arange(0, 4 * len(bb[0]), 4)
    for b in bb:
        ax.plot(bx, b, color=BAND, lw=0.8)
    tr = blend(ax.transAxes, ax.transData)
    for v in levels:
        ax.axhline(v, color="#ff8f8f", lw=1.4, zorder=1)
        ax.plot([0.35], [v], "o", ms=1.3, color="#ff2a2a")
        ax.text(1.003, v, fmt % v, transform=tr, fontsize=2.4, color="white", va="center", ha="left",
                family="DejaVu Sans", bbox=dict(boxstyle="square,pad=0.25", fc="#ff2a2a", ec="none"))
    ax.axhline(last, color="#bdbdbd", lw=0.8, zorder=1)
    ax.text(1.003, last, fmt % last, transform=tr, fontsize=2.4, color="white", va="center", ha="left",
            family="DejaVu Sans", bbox=dict(boxstyle="square,pad=0.25", fc="#111111", ec="none"))
    ax.set_ylim(*ylim)
    ax.set_yticks(yticks)
    ax.set_yticklabels([fmt % t for t in yticks], family="DejaVu Sans")

    mx.vlines(x, 0, hist, colors=np.where(hist >= 0, "#ff4d4d", "#1f9a1f"), lw=0.7)
    mx.plot(bx, macd[0], color="#9090ff", lw=0.8)
    mx.plot(bx, macd[1], color="#ff1e1e", lw=1.4)
    mx.set_ylim(*mlim)
    mx.set_yticks(mticks)
    mx.set_yticklabels(mlabels, family="DejaVu Sans")
    return ax, mx


# ---------------- page ----------------
put(404, 38, title, 16, color="#111111", weight="bold", ha="center")
put(404, 87, subtitle, 9.5, color="#9a9a9a", ha="center")

section(130, eur_head, eur_text, 170)
chart(277, "EURUSD,H4  1.09256 1.09377 1.08733 1.08790", "%.5f",
      eur_open, eur_high, eur_low, eur_close, (eur_bb_up, eur_bb_mid, eur_bb_low),
      (eur_dif, eur_dea), eur_hist, eur_levels, eur_last, (1.0641, 1.1815), eur_yticks,
      (-0.00714, 0.00159), [0.00153, 0.0, -0.00681], ["0.0016", "0.00", "-0.006810"],
      "MACD(12,26,9) -0.00488 -0.00109 0.00000 -0.00340")
sep(599)

section(633, gbp_head, gbp_text, 672)
chart(781, "GBPUSD,H4  1.32288 1.32371 1.32103 1.32117", "%.5f",
      gbp_open, gbp_high, gbp_low, gbp_close, (gbp_bb_up, gbp_bb_mid, gbp_bb_low),
      (gbp_dif, gbp_dea), gbp_hist, gbp_levels, gbp_last, (1.29935, 1.38755), gbp_yticks,
      (-0.00624, 0.00249), [0.00231, 0.0, -0.00594], ["0.00229", "0.00", "-0.005796"],
      "MACD(12,26,9) -0.00447 -0.00280 0.00000 -0.00167")
sep(1103)

section(1137, jpy_head, jpy_text, 1177)
chart(1284, "USDJPY,H4  114.781 114.927 114.659 114.911", "%.3f",
      jpy_open, jpy_high, jpy_low, jpy_close, (jpy_bb_up, jpy_bb_mid, jpy_bb_low),
      (jpy_dif, jpy_dea), jpy_hist, jpy_levels, jpy_last, (113.665, 116.605), jpy_yticks,
      (-0.2115, 0.2205), [0.207, 0.0, -0.2025], ["0.2167", "0.00", "-0.2086"],
      "MACD(12,26,9) -0.0317 0.0603 0.0000 -0.1492")
sep(1606)

section(1640, xau_head, xau_text, 1680)
chart(1788, "XAUUSD,H4  1965.74 1970.04 1963.31 1966.71", "%.2f",
      xau_open, xau_high, xau_low, xau_close, (xau_bb_up, xau_bb_mid, xau_bb_low),
      (xau_dif, xau_dea), xau_hist, xau_levels, xau_last, (1803.0, 2024.5), xau_yticks,
      (-15.0, 20.0), [19.0, 0.0, -14.0], ["19.0612", "0.00", "-13.9921"],
      "MACD(12,26,9) 13.8417 11.0923 0.0000 2.7494")
sep(2110)

section(2144, oil_head, oil_text, 2183)
chart(2263, "UKOUSD,H4  123.035 123.098 121.404 122.200", "%.3f",
      oil_open, oil_high, oil_low, oil_close, (oil_bb_up, oil_bb_mid, oil_bb_low),
      (oil_dif, oil_dea), oil_hist, oil_levels, oil_last, (76.7, 135.9), oil_yticks,
      (-6.0, 11.0), [10.2, 0.0, -5.4], ["10.2140", "0.00", "-5.4121"],
      "MACD(12,26,9) 8.4810 7.2043 0.0000 1.2767")

# ---------------- disclaimer ----------------
y = 2636
for s in disc_top:
    put(LEFT, y, s, 9, color="#333333")
    y += 18
y = 2760
for bold, lines in disc_blocks:
    for i, s in enumerate(lines):
        x = LEFT
        if i == 0 and bold:
            t = put(LEFT, y, bold, 9, color="#222222", weight="bold")
            x = t.get_window_extent(renderer=renderer).x1
        put(x, y, s, 9, color="#333333")
        y += 28
    y += 9

fig.savefig("out.png", dpi=100)
